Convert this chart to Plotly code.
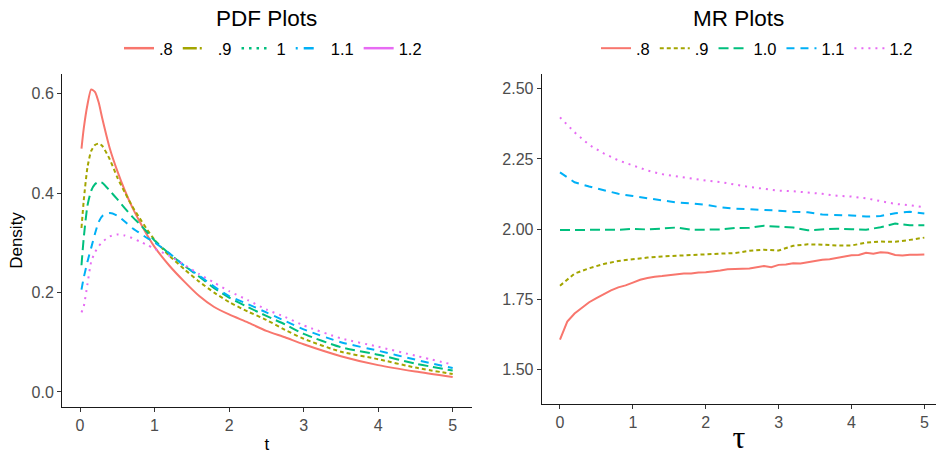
import plotly.graph_objects as go

# ---------------- data ----------------
series_names_pdf = [".8", ".9", "1", "1.1", "1.2"]
series_names_mr = [".8", ".9", "1.0", "1.1", "1.2"]
colors = ["#F8766D", "#A3A500", "#00BF7D", "#00B0F6", "#E76BF3"]

t = [0.02, 0.05, 0.1, 0.15, 0.2, 0.25, 0.3, 0.4, 0.5, 0.6, 0.7, 0.8, 0.9, 1.0,
     1.2, 1.4, 1.6, 1.8, 2.0, 2.25, 2.5, 2.75, 3.0, 3.5, 4.0, 4.5, 5.0]
pdf_08 = [0.49, 0.53, 0.578, 0.609, 0.604, 0.583, 0.550, 0.490, 0.445, 0.406, 0.372, 0.343, 0.316, 0.292,
          0.254, 0.222, 0.193, 0.171, 0.156, 0.140, 0.123, 0.110, 0.096, 0.072, 0.054, 0.041, 0.030]
pdf_09 = [0.33, 0.385, 0.452, 0.485, 0.497, 0.50, 0.495, 0.468, 0.432, 0.402, 0.374, 0.350, 0.327, 0.306,
          0.274, 0.247, 0.222, 0.200, 0.181, 0.162, 0.145, 0.125, 0.107, 0.081, 0.066, 0.049, 0.036]
pdf_10 = [0.255, 0.31, 0.375, 0.405, 0.418, 0.423, 0.421, 0.405, 0.388, 0.37, 0.353, 0.338, 0.322, 0.305,
          0.278, 0.254, 0.232, 0.209, 0.190, 0.171, 0.153, 0.136, 0.117, 0.090, 0.075, 0.057, 0.043]
pdf_11 = [0.206, 0.23, 0.262, 0.29, 0.318, 0.342, 0.354, 0.36, 0.355, 0.343, 0.33, 0.32, 0.31, 0.301,
          0.279, 0.254, 0.234, 0.212, 0.193, 0.177, 0.160, 0.143, 0.126, 0.100, 0.083, 0.065, 0.048]
pdf_12 = [0.16, 0.172, 0.217, 0.262, 0.281, 0.293, 0.302, 0.313, 0.317, 0.315, 0.31, 0.303, 0.296, 0.288,
          0.274, 0.256, 0.237, 0.22, 0.203, 0.185, 0.166, 0.151, 0.134, 0.108, 0.091, 0.073, 0.055]

tau_fine = [round(0.1 * k, 1) for k in range(51)]
mr_08 = [1.607, 1.671, 1.70, 1.72, 1.74, 1.755, 1.77, 1.782, 1.793, 1.80, 1.81, 1.82, 1.826, 1.831,
         1.833, 1.836, 1.839, 1.842, 1.842, 1.846, 1.847, 1.849, 1.853, 1.857, 1.859, 1.859, 1.86,
         1.864, 1.869, 1.865, 1.873, 1.874, 1.879, 1.878, 1.882, 1.888, 1.891, 1.893, 1.897, 1.902,
         1.907, 1.908, 1.916, 1.913, 1.918, 1.916, 1.908, 1.906, 1.909, 1.909, 1.910]
tau = [round(0.2 * k, 1) for k in range(26)]
mr_09 = [1.799, 1.842, 1.861, 1.876, 1.887, 1.894, 1.899, 1.903, 1.906, 1.908, 1.910, 1.913, 1.915,
         1.923, 1.927, 1.924, 1.941, 1.946, 1.945, 1.942, 1.942, 1.952, 1.956, 1.955, 1.962, 1.970]
mr_10 = [1.997, 1.998, 1.998, 1.998, 1.998, 2.001, 1.999, 2.003, 2.006, 1.998, 1.999, 1.999, 2.004,
         2.005, 2.012, 2.008, 2.006, 1.996, 1.998, 2.002, 2.000, 1.998, 2.007, 2.020, 2.014, 2.014]
mr_11 = [2.202, 2.167, 2.152, 2.138, 2.126, 2.118, 2.110, 2.101, 2.095, 2.092, 2.087, 2.078, 2.073,
         2.071, 2.069, 2.066, 2.062, 2.060, 2.052, 2.051, 2.049, 2.045, 2.047, 2.057, 2.062, 2.056]
mr_12 = [2.398, 2.345, 2.300, 2.270, 2.245, 2.226, 2.209, 2.196, 2.188, 2.180, 2.173, 2.168, 2.158,
         2.150, 2.144, 2.137, 2.135, 2.131, 2.126, 2.119, 2.116, 2.110, 2.100, 2.090, 2.085, 2.078]

pdf_ticks = [0, 1, 2, 3, 4, 5]
pdf_yticks = [0.0, 0.2, 0.4, 0.6]
mr_yticks = [1.50, 1.75, 2.00, 2.25, 2.50]

# ---------------- styles ----------------
plot_dash = ["solid", "4px,3px", "10px,5px", "8px,6px", "2px,5px"]
pdf_legend_dash = ["solid", "14px,3px,2px,40px", "2.5px,5px", "2px,6px,10px,40px", "solid"]
LW = 2

fig = go.Figure()

pdf_series = [pdf_08, pdf_09, pdf_10, pdf_11, pdf_12]
for i, ys in enumerate(pdf_series):
    fig.add_trace(go.Scatter(x=t, y=ys, mode="lines", xaxis="x", yaxis="y",
                             line=dict(color=colors[i], width=LW, dash=plot_dash[i],
                                       shape="spline", smoothing=0.6),
                             showlegend=False, name=series_names_pdf[i]))
# legend-only entries for left panel
for i, nm in enumerate(series_names_pdf):
    fig.add_trace(go.Scatter(x=[None], y=[None], mode="lines", xaxis="x", yaxis="y",
                             line=dict(color=colors[i], width=2.5, dash=pdf_legend_dash[i]),
                             name=nm, legend="legend", showlegend=True))

mr_x = [tau_fine, tau, tau, tau, tau]
mr_series = [mr_08, mr_09, mr_10, mr_11, mr_12]
for i, ys in enumerate(mr_series):
    fig.add_trace(go.Scatter(x=mr_x[i], y=ys, mode="lines", xaxis="x2", yaxis="y2",
                             line=dict(color=colors[i], width=LW, dash=plot_dash[i]),
                             name=series_names_mr[i], legend="legend2", showlegend=True))

W, H = 936, 455
ML, MR_, MT, MB = 62, 0, 74, 42
PW, PH = W - ML - MR_, H - MT - MB

def px_x(p):
    return (p - ML) / PW

def px_y(p):
    return (H - MB - p) / PH

tickfont = dict(family="Liberation Sans, Arial, sans-serif", size=16, color="#4D4D4D")
axcommon = dict(showline=True, linecolor="#1a1a1a", linewidth=1, showgrid=False, zeroline=False,
                ticks="outside", ticklen=4, tickwidth=1, tickcolor="#333333", tickfont=tickfont)

fig.update_layout(
    width=W, height=H,
    margin=dict(l=ML, r=MR_, t=MT, b=MB),
    plot_bgcolor="white", paper_bgcolor="white",
    font=dict(family="Liberation Sans, Arial, sans-serif", color="black"),
    xaxis=dict(domain=[0, px_x(471.7)], range=[-0.2415, 5.255], tickvals=pdf_ticks, anchor="y",
               title=dict(text="t", font=dict(size=17, color="black"), standoff=4), **axcommon),
    yaxis=dict(domain=[0, 1], range=[-0.0303, 0.640], tickvals=pdf_yticks, tickformat=".1f", anchor="x",
               title=dict(text="Density", font=dict(size=17, color="black"), standoff=4), **axcommon),
    xaxis2=dict(domain=[px_x(541.7), 1], range=[-0.251, 5.16], tickvals=pdf_ticks, anchor="y2",
                title=dict(text="τ", font=dict(family="Liberation Serif, DejaVu Serif, serif", size=32, color="black"),
                           standoff=1), **axcommon),
    yaxis2=dict(domain=[px_y(410), 1], range=[1.3776, 2.5524], tickvals=mr_yticks, tickformat=".2f", anchor="x2",
                **axcommon),
    legend=dict(orientation="h", x=px_x(273), xanchor="center", y=px_y(48), yanchor="middle",
                font=dict(size=16.5, color="black"), bgcolor="rgba(0,0,0,0)", itemwidth=30),
    legend2=dict(orientation="h", x=px_x(757), xanchor="center", y=px_y(48), yanchor="middle",
                 font=dict(size=16.5, color="black"), bgcolor="rgba(0,0,0,0)", itemwidth=30),
    annotations=[
        dict(text="PDF Plots", x=px_x(266.8), y=px_y(18), xref="paper", yref="paper",
             showarrow=False, xanchor="center", yanchor="middle", font=dict(size=22.5, color="black")),
        dict(text="MR Plots", x=px_x(738.8), y=px_y(18), xref="paper", yref="paper",
             showarrow=False, xanchor="center", yanchor="middle", font=dict(size=22.5, color="black")),
    ],
)

fig.write_html("out.html")
